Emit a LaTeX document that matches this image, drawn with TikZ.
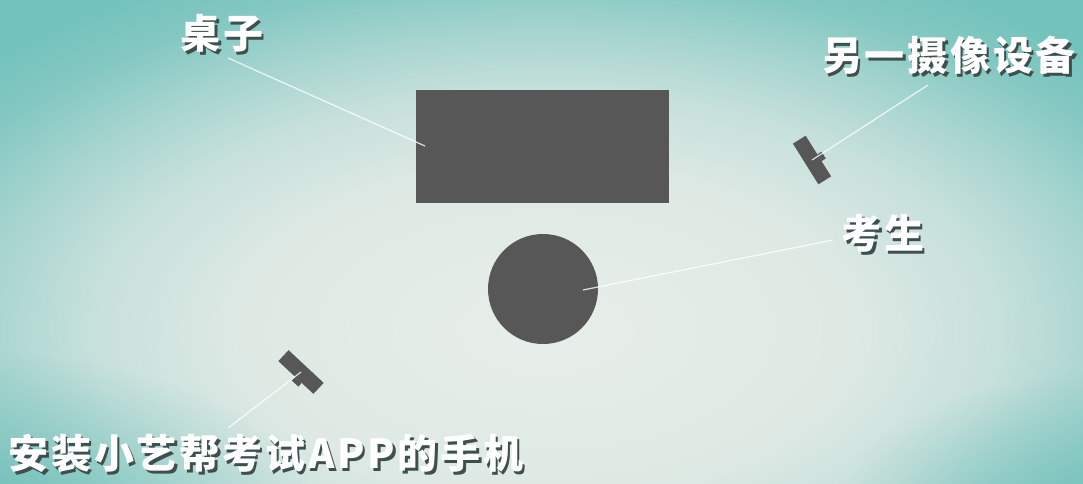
\documentclass[tikz,border=0pt]{standalone}
\usepackage{fontspec}
\newfontfamily\cjk{Noto Sans CJK SC}[LetterSpace=7]
\usetikzlibrary{calc,fadings}
\definecolor{desk}{RGB}{87,87,87}
\definecolor{shadowc}{RGB}{62,80,78}
\definecolor{tealc}{RGB}{108,190,184}
\pgfdeclareradialshading{bgshade}{\pgfpoint{0bp}{0bp}}{%
  rgb(0bp)=(0.910,0.933,0.914);
  rgb(10bp)=(0.871,0.914,0.894);
  rgb(15bp)=(0.776,0.878,0.859);
  rgb(18.75bp)=(0.647,0.831,0.808);
  rgb(22bp)=(0.518,0.784,0.761);
  rgb(25bp)=(0.451,0.761,0.737);
  rgb(50bp)=(0.451,0.761,0.737)}
\tikzfading[name=softglow, inner color=transparent!0, outer color=transparent!100]
\newcommand\shtext[1]{\makebox[0pt][l]{\hspace{2.5pt}\raisebox{-2.5pt}{\color{shadowc}#1}}#1}
\tikzset{
  lbl/.style={font=\cjk\bfseries\fontsize{40}{42}\selectfont, text=white, inner sep=0pt},
  conn/.style={draw=white, draw opacity=0.8, line width=1.2pt},
  solid/.style={fill=desk, draw=none},
  glow/.style={fill=tealc, path fading=softglow, fill opacity=0.9},
}
\begin{document}
\begin{tikzpicture}[x=1pt,y=-1pt]
\useasboundingbox (0,0) rectangle (1083,483);
\begin{scope}
\clip (0,0) rectangle (1083,483);
\shade[shading=bgshade] (-215,-70) rectangle (1305,730);
\fill[glow] (-40,520) ellipse [x radius=360, y radius=170];
\fill[glow] (1130,520) ellipse [x radius=300, y radius=150];
\end{scope}
% desk and candidate
\node[solid, rectangle, minimum width=253pt, minimum height=113pt, anchor=north west, inner sep=0pt] (desk) at (416,90) {};
\node[solid, circle, minimum size=110pt, inner sep=0pt] (cand) at (543,289) {};
% cameras
\begin{scope}[shift={(812,160)}, rotate=-58]
\fill[desk] (-24,-7.5) rectangle (24,7.5);
\fill[desk] (-2,-7.5) rectangle (6,-12.5);
\coordinate (cam1) at (0,0);
\end{scope}
\begin{scope}[shift={(301,372)}, rotate=-43]
\fill[desk] (-24,-7.5) rectangle (24,7.5);
\fill[desk] (-1,7.5) rectangle (8,12.5);
\coordinate (cam2) at (0,0);
\end{scope}
% labels
\node[lbl] (lDesk) at (222,35) {\shtext{桌子}};
\node[lbl] (lCam) at (949,57) {\shtext{另一摄像设备}};
\node[lbl] (lCand) at (883,235) {\shtext{考生}};
\node[lbl] (lPhone) at (266,455) {\shtext{安装小艺帮考试APP的手机}};
% connectors
\coordinate (pDesk) at (228,58);
\coordinate (pCam) at (928,85);
\coordinate (pCand) at (833,240);
\coordinate (pPhone) at (228,428);
\coordinate (dDesk) at (425,146);
\coordinate (dCand) at (583,290);
\draw[conn] (pDesk) -- (dDesk);
\draw[conn] (pCam) -- (cam1);
\draw[conn] (pCand) -- (dCand);
\draw[conn] (pPhone) -- (cam2);
\end{tikzpicture}
\end{document}
